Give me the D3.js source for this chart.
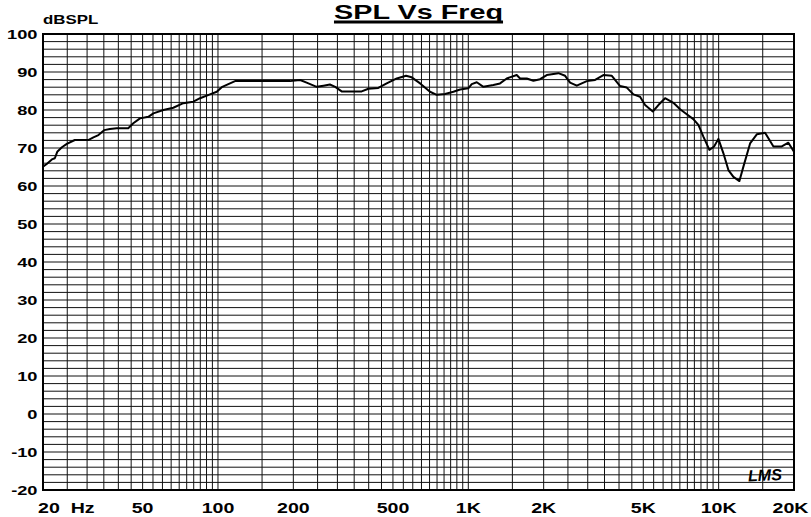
<!DOCTYPE html>
<html>
<head>
<meta charset="utf-8">
<script src="https://cdn.jsdelivr.net/npm/d3@7/dist/d3.min.js"></script>
<style>
  html, body { margin: 0; padding: 0; background: #fff; }
  svg { display: block; }
  text { font-family: "Liberation Sans", Arial, sans-serif; font-weight: bold; fill: #000; white-space: pre; }
</style>
</head>
<body>
<script>
// ---- Data ----
const freqs = [20, 20.7, 21.7, 22.3, 22.8, 23.8, 24.9, 26.8, 28.5, 30.3, 31.8, 33.3, 35.1, 37, 39.4, 43.8, 45.9, 48.8, 52.7, 55.2,
  60.5, 66.3, 72.7, 79.7, 84.8, 92.9, 98.9, 103.5, 110, 117, 152, 194, 213, 226, 248, 264, 280, 294, 312, 375,
  399, 437, 472, 518, 564, 594, 642, 703, 748, 807, 872, 927, 1000, 1032, 1081, 1149, 1259, 1339, 1424, 1561,
  1610, 1712, 1820, 1935, 2058, 2290, 2436, 2550, 2712, 2974, 3210, 3464, 3744, 4040, 4296, 4566, 4854, 5084, 5458, 5746,
  6110, 6596, 7014, 7458, 7924, 8300, 8690, 9184, 9590, 9978, 10448, 10940, 11456, 12104, 12558, 13354, 14206, 15326, 16552, 17878,
  18992, 20000];
const splValues = [65.1, 65.8, 67.0, 67.3, 69.0, 70.2, 71.1, 72.1, 72.1, 72.1, 72.8, 73.4, 74.7, 75.0, 75.2, 75.2, 76.5, 77.8, 78.2, 79.1,
  80.0, 80.6, 81.8, 82.2, 83.1, 84.1, 84.8, 86.0, 86.8, 87.6, 87.6, 87.6, 87.9, 87.2, 86.1, 86.4, 86.7, 86.1, 84.9, 84.9,
  85.6, 85.8, 87.0, 88.3, 89.0, 88.6, 87.0, 84.8, 84.0, 84.2, 84.8, 85.4, 85.7, 86.8, 87.3, 86.1, 86.6, 87.0, 88.3, 89.2,
  88.3, 88.3, 87.7, 88.1, 89.2, 89.7, 89.0, 87.2, 86.4, 87.6, 87.9, 89.2, 89.0, 86.3, 85.9, 84.1, 83.5, 81.3, 79.6, 81.3,
  83.1, 81.9, 80.2, 78.9, 77.6, 76.1, 73.0, 69.5, 70.4, 72.4, 68.6, 64.2, 62.4, 61.3, 65.1, 71.2, 73.6, 74.0, 70.4, 70.4,
  71.4, 69.0];
const xTickValues = [20, 50, 100, 200, 500, 1000, 2000, 5000, 10000, 20000];
const xTickLabels = ["20  Hz", "50", "100", "200", "500", "1K", "2K", "5K", "10K", "20K"];
const yTickValues = [100, 90, 80, 70, 60, 50, 40, 30, 20, 10, 0, -10, -20];
const titleText = "SPL Vs Freq";
const yAxisTitle = "dBSPL";
const logoText = "LMS";

// ---- Layout ----
const W = 811, H = 517;
const pL = 43, pR = 794, pT = 34, pB = 490;
const SX = 1.35; // horizontal stretch of the bitmap-like font

const svg = d3.select("body").append("svg").attr("width", W).attr("height", H);

const x = d3.scaleLog().domain([20, 20000]).range([pL, pR]);
const y = d3.scaleLinear().domain([-20, 100]).range([pB, pT]);

// grid frequencies: steps of half a decade unit
const gridFreqs = [];
for (let d = 10; d <= 10000; d *= 10) {
  const step = d / 2;
  for (let f = Math.max(20, d); f < d * 10 && f <= 20000; f += step) {
    if (f > 20 && f < 20000) gridFreqs.push(f);
  }
}
const gridDb = d3.range(-18, 100, 2);

const grid = svg.append("g").attr("stroke", "#111").attr("stroke-width", 1).attr("fill", "none");
grid.selectAll("line.v").data(gridFreqs).enter().append("line")
  .attr("x1", d => x(d)).attr("x2", d => x(d)).attr("y1", pT).attr("y2", pB);
grid.selectAll("line.h").data(gridDb).enter().append("line")
  .attr("x1", pL).attr("x2", pR).attr("y1", d => y(d)).attr("y2", d => y(d));

// frame
svg.append("rect").attr("x", pL).attr("y", pT).attr("width", pR - pL).attr("height", pB - pT)
  .attr("fill", "none").attr("stroke", "#000").attr("stroke-width", 2);

// curve
const line = d3.line().x((d, i) => x(freqs[i])).y(d => y(d));
svg.append("path").datum(splValues).attr("d", line)
  .attr("fill", "none").attr("stroke", "#000").attr("stroke-width", 2).attr("stroke-linejoin", "round");

// y tick labels
svg.selectAll("text.ylab").data(yTickValues).enter().append("text")
  .attr("transform", d => `translate(37.5,${y(d) + 4.8}) scale(${SX},1)`)
  .attr("text-anchor", "end").attr("font-size", 13.5).text(d => d);

// y axis title
svg.append("text").attr("transform", `translate(43,24) scale(${SX},1)`)
  .attr("font-size", 12.5).text(yAxisTitle);

// x tick labels
svg.selectAll("text.xlab").data(xTickValues).enter().append("text")
  .attr("transform", (d, i) => {
    let px = x(d);
    if (i === 0) px = 38;
    if (i === xTickValues.length - 1) px = 790.5;
    return `translate(${px},513) scale(${SX},1)`;
  })
  .attr("text-anchor", (d, i) => i === 0 ? "start" : "middle")
  .attr("font-size", 14.5).text((d, i) => xTickLabels[i]);

// title with underline
const TS = 1.44;
const title = svg.append("text").attr("transform", `translate(418.5,18.8) scale(${TS},1)`)
  .attr("text-anchor", "middle").attr("font-size", 20).text(titleText);
const tw = title.node().getComputedTextLength() * TS;
svg.append("rect").attr("x", 418.5 - tw / 2).attr("y", 20.5).attr("width", tw).attr("height", 3).attr("fill", "#000");

// logo
svg.append("text").attr("x", 748).attr("y", 481)
  .attr("font-family", "DejaVu Sans").attr("font-style", "italic").attr("font-weight", "normal")
  .attr("font-size", 16).attr("transform", "rotate(-3,760,475)").text(logoText);
</script>
</body>
</html>
